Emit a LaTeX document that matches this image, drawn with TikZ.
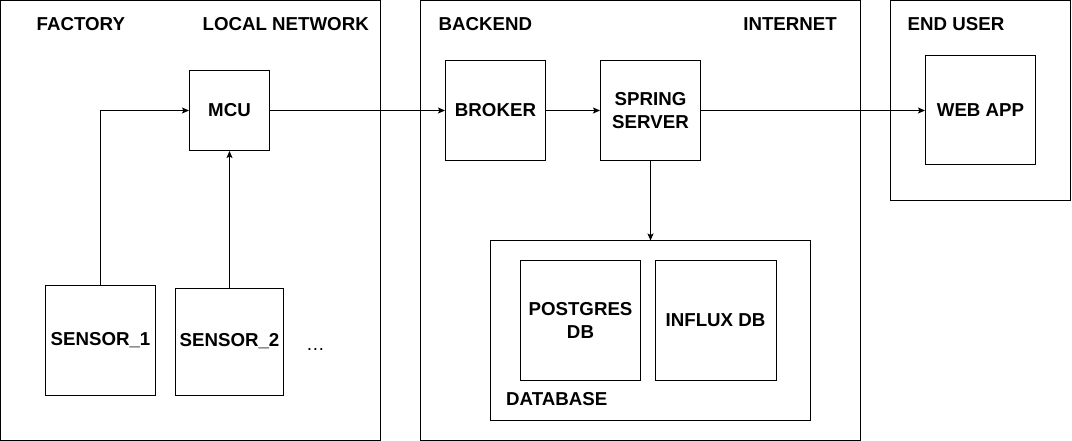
\documentclass[tikz,border=0pt]{standalone}
\usepackage{fontspec}
\setmainfont{Liberation Sans}
\usetikzlibrary{arrows.meta,positioning}
\begin{document}
\begin{tikzpicture}[x=1pt,y=-1pt,
  every node/.style={font=\fontsize{18.7}{22.5}\selectfont\bfseries},
  box/.style={draw=black,line width=1pt,minimum width=#1,minimum height=#1,inner sep=0pt,align=center},
  zone/.style={draw=black,line width=1pt},
  lbl/.style={inner sep=0pt},
  conn/.style={line width=1pt,-{Stealth[length=7pt,width=6pt,inset=1.5pt]}}
]
\useasboundingbox (0,0) rectangle (1072,441);
% zones
\draw[zone] (0.5,0.5) rectangle (380.5,440.5);
\draw[zone] (420.5,0.5) rectangle (860.5,440.5);
\draw[zone] (890.5,0.5) rectangle (1070.5,200.5);
\draw[zone] (490.5,240.5) rectangle (810.5,420.5);
% zone labels
\node[lbl,anchor=base west] (lfactory) at (36.5,31) {FACTORY};
\node[lbl,anchor=base east] (llocal) at (369,31) {LOCAL NETWORK};
\node[lbl,anchor=base west] (lbackend) at (438.5,31) {BACKEND};
\node[lbl,anchor=base east] (linternet) at (837,31) {INTERNET};
\node[lbl,anchor=base west] (lenduser) at (907.5,31) {END USER};
\node[lbl,anchor=base west] (ldatabase) at (506,405.3) {DATABASE};
% boxes
\node[box=80pt] (mcu) at (229.5,110.5) {MCU};
\node[box=110pt] (s1) at (100.5,340.5) {SENSOR\_1};
\node[box=108pt,minimum height=107pt] (s2) at (229.5,341.5) {SENSOR\_2};
\node[lbl,anchor=base,font=\fontsize{18.7}{22.5}\selectfont] (dots) at (315.5,350) {…};
\node[box=100pt] (broker) at (495.5,110.5) {BROKER};
\node[box=100pt] (spring) at (650.5,110.5) {SPRING\\SERVER};
\node[box=110pt,minimum height=109pt] (webapp) at (980.5,110.5) {WEB APP};
\node[box=120pt] (pg) at (580.5,320.5) {POSTGRES\\DB};
\node[box=121pt,minimum height=120pt] (influx) at (715.5,320.5) {INFLUX DB};
\coordinate (dbtop) at (650.5,240.5);
% connectors
\draw[conn] (s1.north) |- (mcu.west);
\draw[conn] (s2.north) -- (mcu.south);
\draw[conn] (mcu.east) -- (broker.west);
\draw[conn] (broker.east) -- (spring.west);
\draw[conn] (spring.east) -- (webapp.west);
\draw[conn] (spring.south) -- (dbtop);
\end{tikzpicture}
\end{document}
